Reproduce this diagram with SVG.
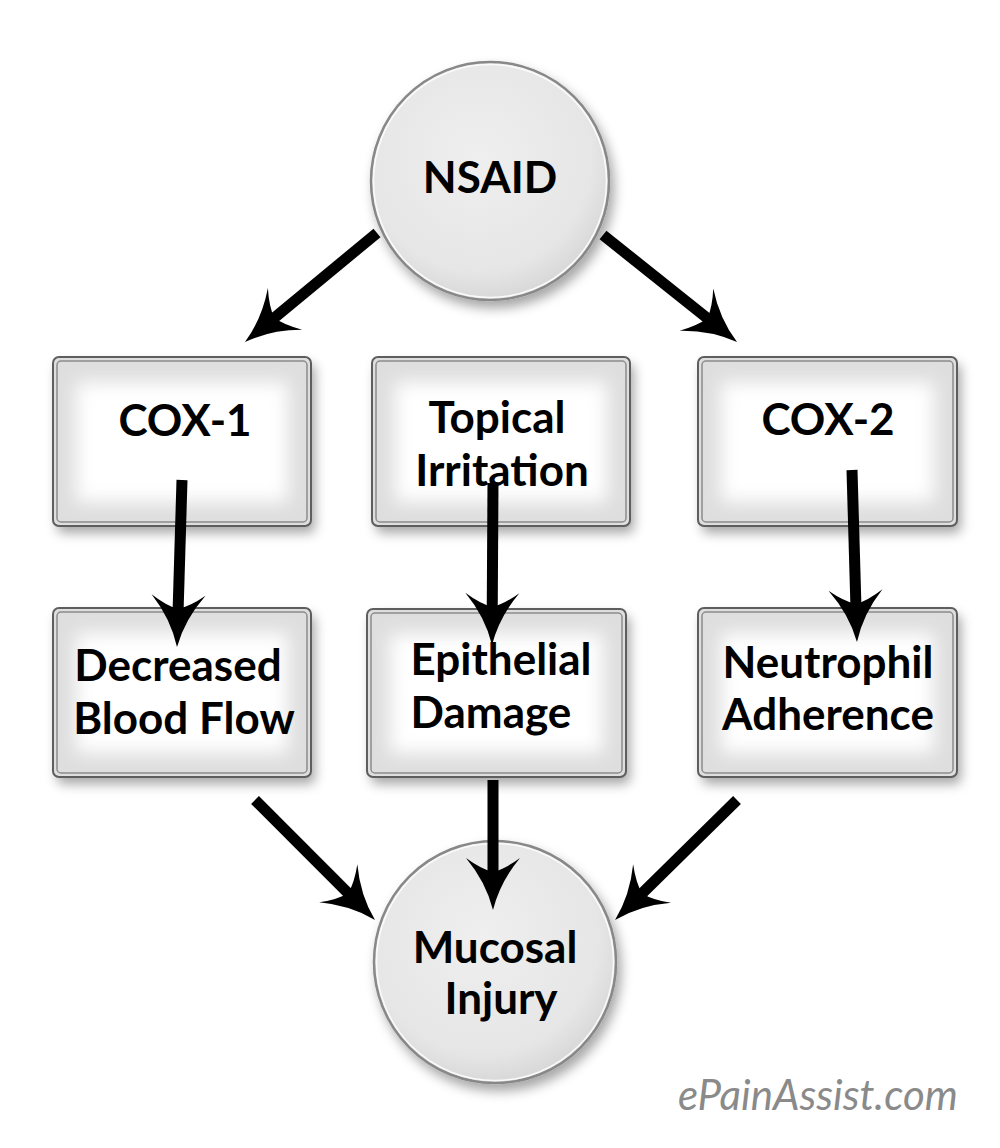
<svg xmlns="http://www.w3.org/2000/svg" width="1000" height="1148" viewBox="0 0 1000 1148">
<style>
.lbl{font-family:Lato,"Open Sans","Liberation Sans",sans-serif;font-weight:700;font-size:44px;fill:#000;text-anchor:middle}
.box-bg{fill:#dedede}
.box-in{fill:#fff}
.box-o{fill:none;stroke:#5e5e5e;stroke-width:2}
.box-i{fill:none;stroke:#8c8c8c;stroke-width:1.5}
.arrow{stroke:#000;stroke-width:11;fill:none;marker-end:url(#head)}
.wm{font-family:Lato,"Open Sans","Liberation Sans",sans-serif;font-style:italic;font-size:42px;fill:#8a8a8a}
</style>
<defs>
<filter id="shadow" x="-20%" y="-20%" width="140%" height="150%">
<feDropShadow dx="4" dy="7" stdDeviation="6" flood-color="#000" flood-opacity="0.35"/>
</filter>
<filter id="glow" x="-20%" y="-20%" width="140%" height="140%">
<feGaussianBlur stdDeviation="9"/>
</filter>
<radialGradient id="cg" cx="45%" cy="40%" r="60%">
<stop offset="0" stop-color="#efefef"/>
<stop offset="0.8" stop-color="#e6e6e6"/>
<stop offset="1" stop-color="#d8d8d8"/>
</radialGradient>
<marker id="head" markerUnits="userSpaceOnUse" viewBox="-30 -35 70 70" refX="0" refY="0" markerWidth="70" markerHeight="70" orient="auto">
<path d="M30,0 Q2,7 -22,27 Q-11,12 -8,0 Q-11,-12 -22,-27 Q2,-7 30,0 Z" fill="#000"/>
</marker>
</defs>

<rect width="1000" height="1148" fill="#fff"/>

<g id="nsaid">
<circle cx="490" cy="181" r="119" fill="url(#cg)" stroke="#888" stroke-width="2.5" filter="url(#shadow)"/>
<circle cx="490" cy="181" r="116.5" fill="none" stroke="#fafafa" stroke-width="1.5"/>
<text class="lbl" x="490" y="193" font-size="46">NSAID</text>
</g>

<g id="cox1">
<g filter="url(#shadow)">
<rect x="53" y="357" width="258" height="169" rx="6" class="box-bg"/>
</g>
<rect x="76" y="382" width="212" height="120" class="box-in" filter="url(#glow)"/>
<rect x="53" y="357" width="258" height="169" rx="6" class="box-o"/>
<rect x="57" y="361" width="250" height="161" rx="4" class="box-i"/>
<text class="lbl" x="185" y="436">COX-1</text>
</g>

<g id="topical">
<g filter="url(#shadow)">
<rect x="372" y="357" width="258" height="169" rx="6" class="box-bg"/>
</g>
<rect x="395" y="382" width="212" height="120" class="box-in" filter="url(#glow)"/>
<rect x="372" y="357" width="258" height="169" rx="6" class="box-o"/>
<rect x="376" y="361" width="250" height="161" rx="4" class="box-i"/>
<text class="lbl" x="497" y="433">Topical</text>
<text class="lbl" x="502" y="486">Irritation</text>
</g>

<g id="cox2">
<g filter="url(#shadow)">
<rect x="698" y="357" width="259" height="169" rx="6" class="box-bg"/>
</g>
<rect x="721" y="382" width="213" height="120" class="box-in" filter="url(#glow)"/>
<rect x="698" y="357" width="259" height="169" rx="6" class="box-o"/>
<rect x="702" y="361" width="251" height="161" rx="4" class="box-i"/>
<text class="lbl" x="828" y="435">COX-2</text>
</g>

<g id="decreased">
<g filter="url(#shadow)">
<rect x="53" y="608" width="258" height="169" rx="6" class="box-bg"/>
</g>
<rect x="76" y="633" width="212" height="120" class="box-in" filter="url(#glow)"/>
<rect x="53" y="608" width="258" height="169" rx="6" class="box-o"/>
<rect x="57" y="612" width="250" height="161" rx="4" class="box-i"/>
<text class="lbl" x="178" y="681">Decreased</text>
<text class="lbl" x="184" y="734">Blood Flow</text>
</g>

<g id="epithelial">
<g filter="url(#shadow)">
<rect x="367" y="609" width="259" height="168" rx="6" class="box-bg"/>
</g>
<rect x="390" y="634" width="213" height="119" class="box-in" filter="url(#glow)"/>
<rect x="367" y="609" width="259" height="168" rx="6" class="box-o"/>
<rect x="371" y="613" width="251" height="160" rx="4" class="box-i"/>
<text class="lbl" x="501" y="675">Epithelial</text>
<text class="lbl" x="491" y="728">Damage</text>
</g>

<g id="neutrophil">
<g filter="url(#shadow)">
<rect x="698" y="608" width="259" height="169" rx="6" class="box-bg"/>
</g>
<rect x="721" y="633" width="213" height="120" class="box-in" filter="url(#glow)"/>
<rect x="698" y="608" width="259" height="169" rx="6" class="box-o"/>
<rect x="702" y="612" width="251" height="161" rx="4" class="box-i"/>
<text class="lbl" x="828" y="678">Neutrophil</text>
<text class="lbl" x="828" y="730">Adherence</text>
</g>

<g id="mucosal">
<circle cx="495" cy="962" r="121" fill="url(#cg)" stroke="#888" stroke-width="2.5" filter="url(#shadow)"/>
<circle cx="495" cy="962" r="118.5" fill="none" stroke="#fafafa" stroke-width="1.5"/>
<text class="lbl" x="495" y="963">Mucosal</text>
<text class="lbl" x="501" y="1014">Injury</text>
</g>

<g id="connectors">
<line class="arrow" x1="377" y1="233" x2="268.1" y2="322.9"/>
<line class="arrow" x1="603" y1="235" x2="713.6" y2="323.3"/>
<line class="arrow" x1="182" y1="480" x2="177.9" y2="617"/>
<line class="arrow" x1="493" y1="483" x2="492.2" y2="615"/>
<line class="arrow" x1="852" y1="470" x2="856.1" y2="612"/>
<line class="arrow" x1="255" y1="800" x2="353.8" y2="898.8"/>
<line class="arrow" x1="493" y1="780" x2="493" y2="880"/>
<line class="arrow" x1="737" y1="800" x2="636.4" y2="899"/>
</g>

<text class="wm" x="678" y="1110">ePainAssist.com</text>
</svg>
